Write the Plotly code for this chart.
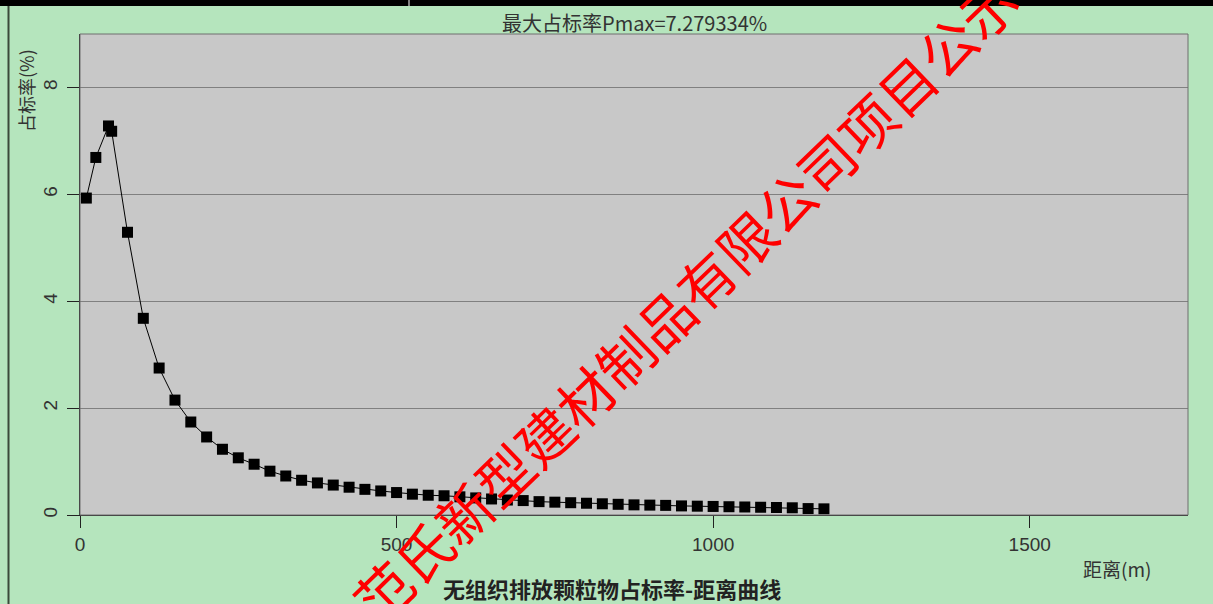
import plotly.graph_objects as go

# ---- data ----
distance_m = [10, 25, 45, 50, 75, 100, 125, 150, 175, 200, 225, 250, 275, 300, 325, 350,
              375, 400, 425, 450, 475, 500, 525, 550, 575, 600, 625, 650, 675, 700, 725,
              750, 775, 800, 825, 850, 875, 900, 925, 950, 975, 1000, 1025, 1050, 1075,
              1100, 1125, 1150, 1175]
ratio_pct = [5.93, 6.69, 7.279334, 7.18, 5.29, 3.68, 2.75, 2.15, 1.74, 1.46, 1.23, 1.07, 0.95,
             0.82, 0.73, 0.65, 0.60, 0.56, 0.52, 0.48, 0.45, 0.42, 0.39, 0.37, 0.36, 0.34,
             0.32, 0.30, 0.28, 0.27, 0.25, 0.24, 0.23, 0.22, 0.21, 0.20, 0.19, 0.185, 0.18,
             0.17, 0.165, 0.16, 0.155, 0.15, 0.145, 0.14, 0.135, 0.12, 0.115]
x_ticks = [0, 500, 1000, 1500]
y_ticks = [0, 2, 4, 6, 8]
top_title = "最大占标率Pmax=7.279334%"
bottom_title = "无组织排放颗粒物占标率-距离曲线"
x_title = "距离(m)"
y_title = "占标率(%)"
watermark = "范氏新型建材制品有限公司项目公示"

W, H = 1213, 604
L, R, T, B = 80, 25, 34, 89
PW, PH = W - L - R, H - T - B

def xp(px):
    return (px - L) / PW

def yp(py):
    return (H - B - py) / PH

fig = go.Figure()
fig.add_trace(go.Scatter(
    x=distance_m, y=ratio_pct, mode="lines+markers",
    line=dict(color="#000000", width=1),
    marker=dict(symbol="square", size=11, color="#000000"),
    showlegend=False, cliponaxis=False,
))

tick_font = dict(family="Liberation Sans", size=19, color="#333333")
cjk = "Noto Sans CJK SC"

fig.update_layout(
    width=W, height=H,
    margin=dict(l=L, r=R, t=T, b=B),
    paper_bgcolor="#b5e5bd",
    plot_bgcolor="#c8c8c8",
    xaxis=dict(range=[0, 1750], tickvals=x_ticks, ticks="outside", ticklen=12,
               tickcolor="#222222", showline=True, linecolor="#222222", linewidth=1,
               showgrid=False, zeroline=False, tickfont=tick_font),
    yaxis=dict(range=[0, 9], tickvals=y_ticks, ticks="outside", ticklen=12,
               tickcolor="#222222", showline=True, linecolor="#222222", linewidth=1,
               showgrid=True, gridcolor="#808080", gridwidth=1, zeroline=False,
               tickfont=tick_font, tickangle=-90, ticklabelstandoff=2),
    shapes=[
        # plot frame (top/right)
        dict(type="rect", xref="paper", yref="paper", x0=0, x1=1, y0=0, y1=1,
             line=dict(color="#6e6e6e", width=1), layer="above"),
        # top black bar
        dict(type="rect", xref="paper", yref="paper", x0=xp(0), x1=xp(W),
             y0=yp(6), y1=yp(0), fillcolor="#000000", line=dict(width=0)),
        dict(type="line", xref="paper", yref="paper", x0=xp(409), x1=xp(409),
             y0=yp(6), y1=yp(0), line=dict(color="#ffffff", width=1)),
        # left dark border
        dict(type="line", xref="paper", yref="paper", x0=xp(8.5), x1=xp(8.5),
             y0=yp(H), y1=yp(6), line=dict(color="#3a4a3a", width=2)),
    ],
    annotations=[
        dict(text=top_title, x=xp(634), y=yp(22), xref="paper", yref="paper",
             showarrow=False, xanchor="center", yanchor="middle",
             font=dict(family=cjk, size=20, color="#333333")),
        dict(text=y_title, x=xp(26), y=yp(91), xref="paper", yref="paper",
             showarrow=False, xanchor="center", yanchor="middle", textangle=-90,
             font=dict(family=cjk, size=18, color="#333333")),
        dict(text=x_title, x=xp(1117), y=yp(568), xref="paper", yref="paper",
             showarrow=False, xanchor="center", yanchor="middle",
             font=dict(family=cjk, size=19, color="#333333")),
        dict(text="<b>" + bottom_title + "</b>", x=xp(612), y=yp(588), xref="paper",
             yref="paper", showarrow=False, xanchor="center", yanchor="middle",
             font=dict(family=cjk, size=22, color="#222222")),
        dict(text=watermark, x=xp(684), y=yp(298), xref="paper", yref="paper",
             showarrow=False, xanchor="center", yanchor="middle", textangle=-44,
             font=dict(family=cjk, size=56, color="#ff0000")),
    ],
)

fig.write_html("out.html")
